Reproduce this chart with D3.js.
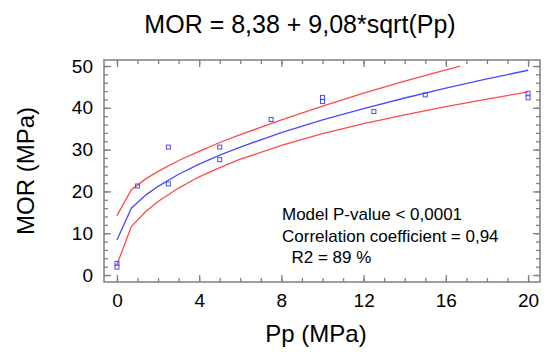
<!DOCTYPE html>
<html>
<head>
<meta charset="utf-8">
<script src="https://cdn.jsdelivr.net/npm/d3@7"></script>
<style>
  body { margin: 0; background: #fff; }
  svg { display: block; font-family: "Liberation Sans", Arial, sans-serif; }
</style>
</head>
<body>
<svg id="chart" width="550" height="354"></svg>
<script>
// observed points (Pp, MOR)
const ppValues = [0, 0, 1, 2.5, 2.5, 5, 5, 7.5, 10, 10, 12.5, 15, 20, 20];
const morValues = [1.9, 2.8, 21.3, 30.6, 21.8, 30.6, 27.6, 37.2, 42.5, 41.5, 39.1, 43.1, 43.5, 42.4];

// fitted curve and confidence limits, read along the x axis
const curveX = [0, 0.7, 1.4, 2, 3, 4, 5, 6, 8, 10, 12, 14, 16, 18, 20];
const fitY = [8.38, 15.98, 19.12, 21.22, 24.11, 26.54, 28.68, 30.62, 34.06, 37.09, 39.83, 42.35, 44.70, 46.90, 48.99];
const upperX = [0, 0.7, 1.4, 2, 3, 4, 5, 6, 8, 10, 12, 14, 16, 16.7];
const upperY = [14.2, 20.4, 23.0, 24.8, 27.4, 29.6, 31.7, 33.6, 37.1, 40.4, 43.5, 46.4, 49.1, 50.0];
const lowerY = [2.5, 11.6, 15.2, 17.6, 20.8, 23.5, 25.7, 27.7, 31.0, 33.8, 36.2, 38.3, 40.3, 42.1, 43.8];

const xTicks = [0, 4, 8, 12, 16, 20];
const yTicks = [0, 10, 20, 30, 40, 50];

const titleText = "MOR = 8,38 + 9,08*sqrt(Pp)";
const statLines = ["Model P-value < 0,0001", "Correlation coefficient = 0,94", "  R2 = 89 %"];

const svg = d3.select("#chart");
const frame = { left: 104, right: 540, top: 60, bottom: 282 };

const x = d3.scaleLinear().domain([-0.63, 20.58]).range([frame.left, frame.right]);
const y = d3.scaleLinear().domain([-1.67, 51.44]).range([frame.bottom, frame.top]);

const red = "#ff4a4a", blue = "#4a4aff", grey = "#808080";

// minor ticks on all four sides
const xMinor = d3.range(0, 21, 1), yMinor = d3.range(0, 51, 2);
const minorAxes = [
    [d3.axisBottom(x).tickValues(xMinor), `translate(0,${frame.bottom})`],
    [d3.axisTop(x).tickValues(xMinor), `translate(0,${frame.top})`],
    [d3.axisLeft(y).tickValues(yMinor), `translate(${frame.left},0)`],
    [d3.axisRight(y).tickValues(yMinor), `translate(${frame.right},0)`]
];
minorAxes.forEach(([ax, tr]) => {
    const g = svg.append("g").attr("transform", tr)
        .call(ax.tickSize(-4).tickFormat(""));
    g.select(".domain").remove();
    g.selectAll("line").attr("stroke", grey).attr("stroke-width", 1.3);
});

// major ticks
const xAxisG = svg.append("g").attr("transform", `translate(0,${frame.bottom})`)
    .call(d3.axisBottom(x).tickValues(xTicks).tickSize(-7).tickPadding(12));
const yAxisG = svg.append("g").attr("transform", `translate(${frame.left},0)`)
    .call(d3.axisLeft(y).tickValues(yTicks).tickSize(-7).tickPadding(11));
svg.append("g").attr("transform", `translate(0,${frame.top})`)
    .call(d3.axisTop(x).tickValues(xTicks).tickSize(-7).tickFormat(""));
svg.append("g").attr("transform", `translate(${frame.right},0)`)
    .call(d3.axisRight(y).tickValues(yTicks).tickSize(-7).tickFormat(""));
svg.selectAll(".domain").remove();
svg.selectAll(".tick line").attr("stroke", grey).attr("stroke-width", 1.3);
svg.selectAll(".tick text").attr("fill", "#000").style("font-size", "19px")
    .style("font-family", "Liberation Sans, Arial, sans-serif");

// frame
svg.append("rect")
    .attr("x", frame.left).attr("y", frame.top)
    .attr("width", frame.right - frame.left).attr("height", frame.bottom - frame.top)
    .attr("fill", "none").attr("stroke", grey).attr("stroke-width", 1.5);

const line = d3.line().x(d => x(d[0])).y(d => y(d[1]));

svg.append("path").datum(d3.zip(upperX, upperY))
    .attr("d", line).attr("fill", "none").attr("stroke", red).attr("stroke-width", 1.3);
svg.append("path").datum(d3.zip(curveX, lowerY))
    .attr("d", line).attr("fill", "none").attr("stroke", red).attr("stroke-width", 1.3);
svg.append("path").datum(d3.zip(curveX, fitY))
    .attr("d", line).attr("fill", "none").attr("stroke", blue).attr("stroke-width", 1.3);

svg.selectAll(".pt").data(d3.zip(ppValues, morValues)).join("rect")
    .attr("class", "pt")
    .attr("x", d => x(d[0]) - 2).attr("y", d => y(d[1]) - 2)
    .attr("width", 4).attr("height", 4)
    .attr("fill", "none").attr("stroke", blue).attr("stroke-width", 1);

// titles
svg.append("text")
    .attr("x", 300).attr("y", 33)
    .attr("text-anchor", "middle")
    .style("font-size", "25px")
    .text(titleText);

svg.append("text")
    .attr("x", 316).attr("y", 342)
    .attr("text-anchor", "middle")
    .style("font-size", "24px")
    .text("Pp (MPa)");

svg.append("text")
    .attr("transform", "translate(34,171) rotate(-90)")
    .attr("text-anchor", "middle")
    .style("font-size", "24px")
    .text("MOR (MPa)");

svg.selectAll(".stat").data(statLines).join("text")
    .attr("class", "stat")
    .attr("x", 282)
    .attr("y", (d, i) => 220 + i * 21.5)
    .style("font-size", "17px")
    .style("white-space", "pre")
    .attr("xml:space", "preserve")
    .text(d => d);
</script>
</body>
</html>
